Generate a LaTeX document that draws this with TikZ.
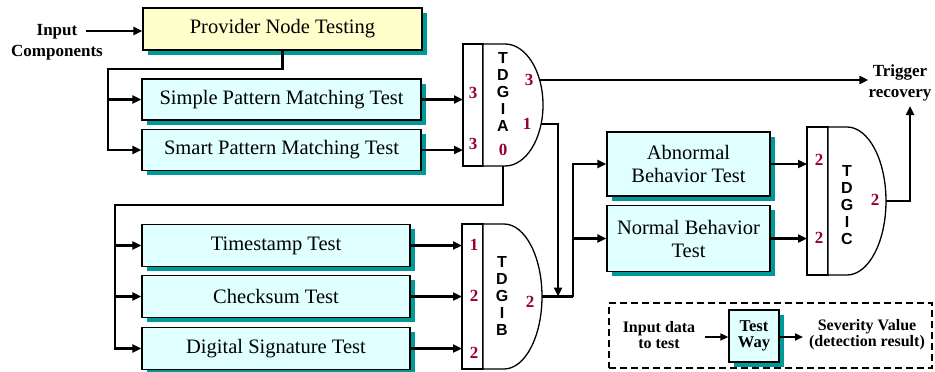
\documentclass[tikz,border=0pt]{standalone}
\usepackage{fontspec}
\setmainfont{Liberation Serif}
\setsansfont{Liberation Sans}
\usetikzlibrary{arrows.meta,shadows}
\definecolor{boxcyan}{RGB}{224,255,255}
\definecolor{boxyellow}{RGB}{255,255,204}
\definecolor{shadowteal}{RGB}{0,153,153}
\definecolor{numred}{RGB}{150,0,45}
\tikzset{
  tbox/.style={draw=black, line width=1.3pt, fill=boxcyan, inner sep=0pt,
    font=\fontsize{20.5}{23}\selectfont, align=center,
    drop shadow={shadow xshift=4.5pt, shadow yshift=-4.5pt, fill=shadowteal, opacity=1}},
  ybox/.style={tbox, fill=boxyellow},
  conn/.style={line width=2.4pt},
  arr/.style={conn, -{Triangle[length=9pt,width=8pt]}},
  lbl/.style={font=\bfseries\fontsize{17}{21}\selectfont, align=center, inner sep=0pt},
  num/.style={font=\bfseries\fontsize{17}{17}\selectfont, text=numred, inner sep=0pt},
  gatelbl/.style={font=\sffamily\bfseries\fontsize{16}{17.2}\selectfont, align=center, inner sep=0pt},
  gate/.style={draw=black, line width=1.3pt, fill=white},
}
\begin{document}
\begin{tikzpicture}[x=1pt,y=-1pt]
\useasboundingbox (0,0) rectangle (935,372);

% ---- boxes ----
\node[ybox, minimum width=279pt, minimum height=42pt] (prov) at (282.5,29) {Provider Node Testing};
\node[tbox, minimum width=279pt, minimum height=41pt] (simple) at (281.5,99.5) {Simple Pattern Matching Test};
\node[tbox, minimum width=279pt, minimum height=41pt] (smart) at (281.5,150) {Smart Pattern Matching Test};
\node[tbox, minimum width=268pt, minimum height=42pt] (tstamp) at (276,245.5) {Timestamp Test};
\node[tbox, minimum width=268pt, minimum height=42pt] (chk) at (276,296.5) {Checksum Test};
\node[tbox, minimum width=268pt, minimum height=42pt] (dsig) at (276,348.5) {Digital Signature Test};
\node[tbox, minimum width=163pt, minimum height=64pt] (abn) at (688.5,164) {Abnormal\\Behavior Test};
\node[tbox, minimum width=163pt, minimum height=66pt] (nrm) at (688.5,238.5) {Normal Behavior\\Test};

% ---- labels ----
\node[lbl] (inp) at (57,42) {Input\\Components};
\node[lbl] (trig) at (900,83) {Trigger\\recovery};

% ---- gates ----
% Gate A
\draw[gate] (463,44) rectangle (483,166);
\draw[gate] (483,44) -- (505,44) .. controls (526,44) and (543,71.3) .. (543,105)
  .. controls (543,138.7) and (526,166) .. (505,166) -- (483,166) -- cycle;
\node[gatelbl] (gAt) at (503,92) {T\\D\\G\\I\\A};
% Gate B
\draw[gate] (462,224) rectangle (483,369);
\draw[gate] (483,224) -- (504,224) .. controls (525,224) and (542,256.5) .. (542,296.5)
  .. controls (542,336.5) and (525,369) .. (504,369) -- (483,369) -- cycle;
\node[gatelbl] (gBt) at (502,296) {T\\D\\G\\I\\B};
% Gate C
\draw[gate] (807,127) rectangle (828,275);
\draw[gate] (828,127) -- (847,127) .. controls (868.5,127) and (886,160) .. (886,201)
  .. controls (886,242) and (868.5,275) .. (847,275) -- (828,275) -- cycle;
\node[gatelbl] (gCt) at (847,205) {T\\D\\G\\I\\C};

% ---- gate numbers ----
\node[num] (nA1) at (473,93) {3};
\node[num] (nA2) at (473,144) {3};
\node[num] (nA3) at (529,80) {3};
\node[num] (nA4) at (527,124) {1};
\node[num] (nA5) at (503,150) {0};
\node[num] (nB1) at (474,245) {1};
\node[num] (nB2) at (474,296) {2};
\node[num] (nB3) at (474,353) {2};
\node[num] (nB4) at (530,302) {2};
\node[num] (nC1) at (819,160) {2};
\node[num] (nC2) at (819,238) {2};
\node[num] (nC3) at (875,200) {2};

% ---- coordinates ----
\coordinate (gAw) at (463,0);
\coordinate (gBw) at (462,0);
\coordinate (gCw) at (807,0);
\coordinate (inA) at (86,31);
\coordinate (j1) at (108,69);
\coordinate (gAo3) at (539.5,80);
\coordinate (gAo1) at (541,124);
\coordinate (gAo0) at (503,166);
\coordinate (j2) at (115,205);
\coordinate (gBo) at (542,296.5);
\coordinate (j3) at (573,296.5);
\coordinate (j4) at (558,296.5);
\coordinate (gCo) at (886,201);
\coordinate (trigin) at (910,106);

% ---- connectors ----
\draw[arr] (inA) -- (inA -| prov.west);
\draw[arr] (prov.south) |- (j1) |- (smart.west);
\draw[arr] (j1 |- simple.west) -- (simple.west);
\draw[arr] (simple.east) -- (simple.east -| gAw);
\draw[arr] (smart.east) -- (smart.east -| gAw);
\draw[arr] (gAo3) -- (gAo3 -| trig.west);
\draw[arr] (gAo1) -| (j4);
\draw[arr] (gAo0) |- (j2) |- (dsig.west);
\draw[arr] (j2 |- tstamp.west) -- (tstamp.west);
\draw[arr] (j2 |- chk.west) -- (chk.west);
\draw[arr] (tstamp.east) -- (tstamp.east -| gBw);
\draw[arr] (chk.east) -- (chk.east -| gBw);
\draw[arr] (dsig.east) -- (dsig.east -| gBw);
\draw[conn] (gBo) -- (j3);
\draw[arr] (j3) |- (abn.west);
\draw[arr] (j3 |- nrm.west) -- (nrm.west);
\draw[arr] (abn.east) -- (abn.east -| gCw);
\draw[arr] (nrm.east) -- (nrm.east -| gCw);
\draw[arr] (gCo) -| (trigin);

% ---- legend ----
\node[draw=black, dash pattern=on 7pt off 4pt, line width=2pt, minimum width=323pt, minimum height=65pt, inner sep=0pt] (legend) at (770.5,335.5) {};
\node[lbl, font=\bfseries\fontsize{16}{16}\selectfont] (lin) at (659,335) {Input data\\to test};
\node[tbox, fill=boxcyan, minimum width=50pt, minimum height=52pt, font=\bfseries\fontsize{16.5}{16}\selectfont] (tway) at (754,336) {Test\\Way};
\node[lbl, font=\bfseries\fontsize{16}{16}\selectfont] (lout) at (867,335) {Severity Value\\(detection result)};
\coordinate (lgA) at (705,337);
\coordinate (lgB) at (803,337);
\draw[conn, line width=1.8pt, -{Triangle[length=8pt,width=7pt]}] (lgA) -- (lgA -| tway.west);
\draw[conn, line width=1.8pt, -{Triangle[length=8pt,width=7pt]}] (lgB -| tway.east) -- (lgB);
\end{tikzpicture}
\end{document}
